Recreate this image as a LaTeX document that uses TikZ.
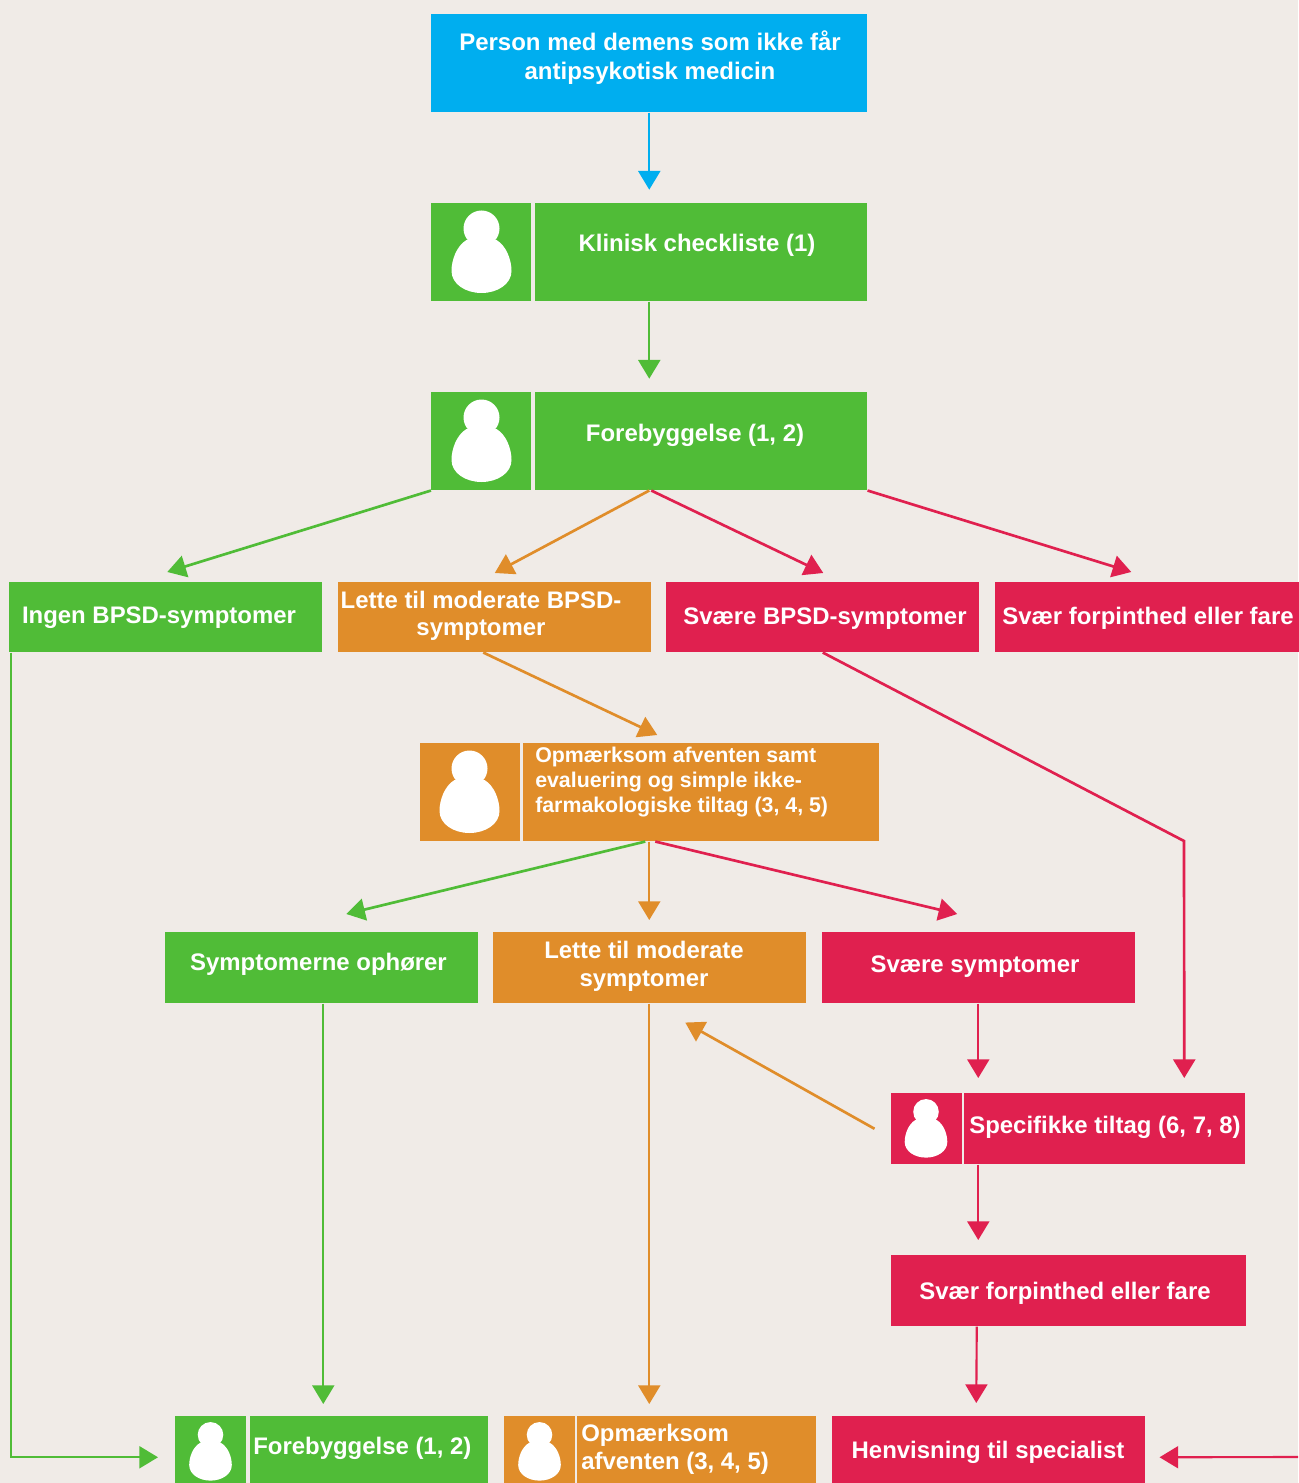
\documentclass[tikz,border=0pt]{standalone}
\usepackage{fontspec}
\setmainfont{Liberation Sans}
\usetikzlibrary{arrows.meta}

\definecolor{bggrey}{HTML}{F0EBE7}
\definecolor{skyblue}{HTML}{00AEEF}
\definecolor{leafgreen}{HTML}{50BC37}
\definecolor{amber}{HTML}{E08D2A}
\definecolor{crimson}{HTML}{E0204F}

\tikzset{
  wh/.style 2 args={minimum width=#1*0.75pt,minimum height=#2*0.75pt},
  flowbox/.style={anchor=north west,inner sep=0pt,fill=#1},
  boxtext/.style={text=white,font=\bfseries\fontsize{17.95}{21.5}\selectfont,align=center,inner sep=0pt},
  smalltext/.style={text=white,font=\bfseries\fontsize{16}{18.75}\selectfont,align=left,inner sep=0pt,anchor=west},
  link/.style={draw=#1,line width=1.6pt,-{Triangle[width=16.5pt,length=14pt]}},
  slant/.style={line width=2pt},
  person/.pic={
    \fill[white] (0,-23.5) circle [radius=18];
    \fill[white] (-15,-12) .. controls (-25,-6) and (-30,8) .. (-30,19)
      .. controls (-30,32) and (-16,41) .. (0,41)
      .. controls (16,41) and (30,32) .. (30,19)
      .. controls (30,8) and (25,-6) .. (15,-12) -- cycle;
  }
}

\begin{document}
\begin{tikzpicture}[x=0.75pt,y=-0.75pt]
\useasboundingbox[fill=bggrey] (0,0) rectangle (1298,1483);

% top of the chart
\node[flowbox=skyblue,wh={436}{98}] (start) at (431,14) {};
\node[boxtext,font=\bfseries\fontsize{18}{21.5}\selectfont] (starttext) at (650,57.5) {Person med demens som ikke får\\antipsykotisk medicin};

\node[flowbox=leafgreen,wh={100}{98}] (checkicon) at (431,203) {};
\node[flowbox=leafgreen,wh={332}{98}] (check) at (535,203) {};
\node[boxtext] (checktext) at (697,245) {Klinisk checkliste (1)};
\pic at (481.5,252) {person};

\node[flowbox=leafgreen,wh={100}{98}] (previcon) at (431,392) {};
\node[flowbox=leafgreen,wh={332}{98}] (prev) at (535,392) {};
\node[boxtext] (prevtext) at (695,435) {Forebyggelse (1, 2)};
\pic at (481.5,441) {person};

% first row of outcomes
\node[flowbox=leafgreen,wh={313}{70}] (none) at (9,582) {};
\node[boxtext] (nonetext) at (159,618) {Ingen BPSD-symptomer};
\node[flowbox=amber,wh={313}{70}] (mild) at (338,582) {};
\node[boxtext] (mildtext) at (481,615.5) {Lette til moderate BPSD-\\[-1.5pt]symptomer};
\node[flowbox=crimson,wh={313}{70}] (severe) at (666,582) {};
\node[boxtext] (severetext) at (825,619) {Svære BPSD-symptomer};
\node[flowbox=crimson,wh={313}{70}] (danger) at (995,582) {};
\node[boxtext] (dangertext) at (1148,618) {Svær forpinthed eller fare};

% watchful waiting
\node[flowbox=amber,wh={100}{98}] (watchicon) at (420,743) {};
\node[flowbox=amber,wh={356}{98}] (watch) at (523,743) {};
\node[smalltext] (watchtext) at (535,782) {Opmærksom afventen samt\\evaluering og simple ikke-\\farmakologiske tiltag (3, 4, 5)};
\pic at (469.5,792) {person};

% second row of outcomes
\node[flowbox=leafgreen,wh={313}{71}] (gone) at (164.5,932) {};
\node[boxtext] (gonetext) at (318.5,964) {Symptomerne ophører};
\node[flowbox=amber,wh={313}{71}] (mild2) at (492.5,932) {};
\node[boxtext] (mild2text) at (644,966) {Lette til moderate\\[-.75pt]symptomer};
\node[flowbox=crimson,wh={313}{71}] (severe2) at (821.5,932) {};
\node[boxtext] (severe2text) at (975,967) {Svære symptomer};

% specific measures
\node[flowbox=crimson,wh={71}{71}] (specicon) at (890.5,1093) {};
\node[flowbox=crimson,wh={281}{71}] (spec) at (964,1093) {};
\node[boxtext] (spectext) at (1105,1127) {Specifikke tiltag (6, 7, 8)};
\pic[scale=.71] at (926,1128.5) {person};

\node[flowbox=crimson,wh={355}{71}] (danger2) at (891,1255) {};
\node[boxtext] (danger2text) at (1065,1293) {Svær forpinthed eller fare};

% bottom row, runs off the page
\node[flowbox=leafgreen,wh={71}{71}] (previcon2) at (175,1416) {};
\node[flowbox=leafgreen,wh={238}{71}] (prev2) at (250,1416) {};
\node[boxtext,anchor=west] (prev2text) at (253,1448) {Forebyggelse (1, 2)};
\pic[scale=.71] at (210.5,1451.5) {person};

\node[flowbox=amber,wh={71}{71}] (watchicon2) at (504,1416) {};
\node[flowbox=amber,wh={239}{71}] (watch2) at (577,1416) {};
\node[boxtext,anchor=west,align=left] (watch2text) at (581,1449) {Opmærksom\\[-.75pt]afventen (3, 4, 5)};
\pic[scale=.71] at (539.5,1451.5) {person};

\node[flowbox=crimson,wh={313}{71}] (referral) at (832,1416) {};
\node[boxtext] (referraltext) at (988,1452) {Henvisning til specialist};

\coordinate (knee) at (1184,841);
\coordinate (offpage) at (1298,1457);

% connectors
\draw[link=skyblue] (start.south) -- ([yshift=10pt]check.north -| start.south);
\draw[link=leafgreen] (check.south -| start.south) -- ([yshift=10pt]prev.north -| start.south);
\draw[link=leafgreen,slant] (previcon.south west) -- ([shift={(1.5,-10)}]none.north);
\draw[link=amber,slant] (prev.south -| start.south) -- ([shift={(0,-9)}]mild.north);
\draw[link=crimson,slant] ([shift={(2,0)}]prev.south -| start.south) -- ([shift={(0.5,-9)}]severe.north);
\draw[link=crimson,slant] (prev.south east) -- ([shift={(-20.5,-10)}]danger.north);
\draw[link=amber,slant] ([shift={(-11.5,0)}]mild.south) -- ([shift={(-44,-8)}]watch.north);
\draw[link=crimson,slant] (severe.south) -- (knee) -- ([shift={(79.5,-15)}]spec.north);
\draw[link=leafgreen,slant] ([shift={(-4,0)}]watch.south -| start.south) -- ([shift={(25,-18)}]gone.north);
\draw[link=amber] (watch.south -| start.south) -- ([shift={(0,-12)}]mild2.north);
\draw[link=crimson,slant] ([shift={(6,0)}]watch.south -| start.south) -- ([shift={(-21,-18)}]severe2.north);
\draw[link=leafgreen] ([shift={(2,0)}]gone.south) -- ([shift={(-46,-12)}]prev2.north);
\draw[link=amber] (mild2.south) -- ([shift={(-47.5,-12)}]watch2.north);
\draw[link=crimson] (severe2.south) -- ([shift={(-126.5,-15)}]spec.north);
\draw[link=amber,slant] ([shift={(-16,0)}]specicon.west) -- ([shift={(36,19)}]mild2.south);
\draw[link=crimson] (spec.south -| severe2.south) -- ([yshift=11.25pt]danger2.north -| severe2.south);
\draw[link=crimson] ([shift={(-92,0)}]danger2.south) -- ([shift={(-12.5,-13)}]referral.north);
\draw[link=leafgreen] ([shift={(2,0)}]none.south west) |- ([shift={(-17,5.5)}]previcon2.west);
\draw[link=crimson] (offpage) -- ([shift={(14,5.5)}]referral.east);
\end{tikzpicture}
\end{document}
